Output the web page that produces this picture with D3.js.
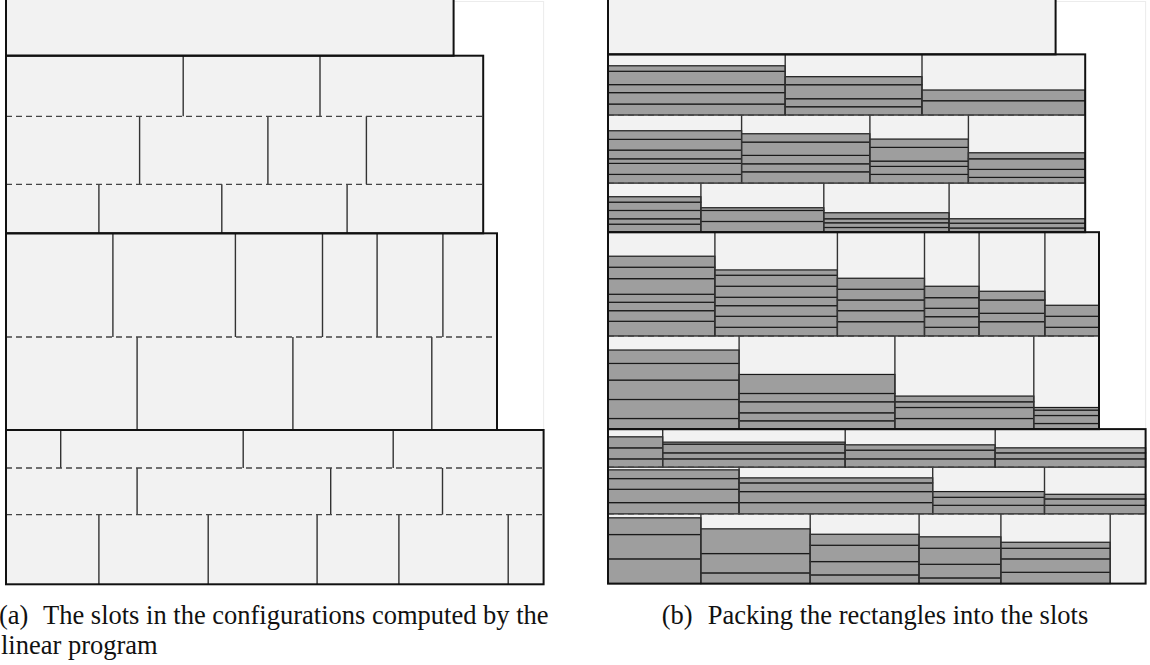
<!DOCTYPE html>
<html>
<head>
<meta charset="utf-8">
<script src="https://cdn.jsdelivr.net/npm/d3@7"></script>
<style>
  body { margin: 0; background: #fff; }
  svg { display: block; }
</style>
</head>
<body>
<script>
const width = 1150,
  height = 665;

// config widths (diagram units, measured from the strip's left edge)
const configWidths = [447.6, 477.2, 491, 537.6];

// level edges of each configuration (top to bottom)
const levelEdges = [
  [-4, 55.7],
  [55.7, 116.3, 184.3, 233.3],
  [233.3, 337, 430],
  [430, 468, 514.7, 584.3]
];

// slot cuts in every level
const slotCuts = [
  [[]],
  [[177.2, 314], [133.6, 261.9, 360.4], [92.9, 215.8, 341.1]],
  [[106.9, 229.4, 316.5, 371.1, 436.9], [131.1, 286.9, 425.8]],
  [[54.7, 237.2, 387.2], [131.1, 324.7, 436.5], [92.9, 202.2, 311.1, 392.9, 502.2]]
];

// heights of the packed rectangles in each slot, stacked from the slot bottom
const packed1 = [[[]]];
const packed2 = [
  [[11, 11.4, 8, 13.3, 5.5], [8.3, 8, 14, 8], [14.3, 10.7]],
  [[8.7, 11, 4.6, 8.7, 10.7, 8.6], [11.3, 8, 8.4, 13.3, 8.3], [8.7, 8, 5.3, 13.7, 8.3], [5.7, 8, 10.6, 6]],
  [[8, 5.4, 8.3, 8.3, 5.4], [10.7, 11, 2.7], [4.7, 4.7, 4, 6], [4.2, 4.8, 4.4]]
];
const packed3 = [
  [[14.7, 10.6, 8.4, 8, 15.6, 11.4, 11], [8.7, 11, 10.6, 8.4, 11, 11, 5.3], [14.3, 11, 10.7, 10.7, 11],
   [8.7, 10.6, 8.4, 10.6, 11.4], [14.3, 8.4, 13.3, 8.7], [8.7, 11, 11]],
  [[10.6, 19, 19.4, 16.6, 13.4], [8.3, 8, 11, 8.3, 19], [10.6, 11, 5.7, 5.7], [5.6, 8, 5.4, 2.6]]
];
const packed4 = [
  [[8.3, 11, 11], [8.3, 6, 8.7, 2], [8.3, 8.7, 5.3], [8.3, 6, 5]],
  [[11.3, 13.3, 10.7, 8.7], [11.3, 11, 8.7, 5], [8.6, 8, 5.7], [8.6, 6.4, 4.6]],
  [[24.7, 24.3, 16.7], [10.7, 19.3, 24.7], [8.7, 13.3, 16.3, 11], [5.7, 13.6, 16, 11.4], [11.3, 13.4, 10.6, 6], []]
];
const packed = [packed1, packed2, packed3, packed4];

const captionA = ["(a)", "The slots in the configurations computed by the", "linear program"];
const captionB = ["(b)", "Packing the rectangles into the slots"];

const svg = d3
  .select("body")
  .append("svg")
  .attr("width", width)
  .attr("height", height);

function drawPanel(xRange, yRange, withItems) {
  const xScale = d3.scaleLinear().domain([0, 537.6]).range(xRange);
  const yScale = d3.scaleLinear().domain([0, 584.3]).range(yRange);
  const g = svg.append("g");

  // faint frame round the figure
  g.append("rect")
    .attr("x", xScale(0))
    .attr("y", 1.5)
    .attr("width", xScale(537.6) - xScale(0))
    .attr("height", yScale(584.3) - 1.5)
    .attr("fill", "none")
    .attr("stroke", "#ececec")
    .attr("stroke-width", 1);

  // slots (flattened)
  const slots = [];
  levelEdges.forEach((edges, c) => {
    for (let l = 0; l < edges.length - 1; l++) {
      const cuts = [0, ...slotCuts[c][l], configWidths[c]];
      for (let s = 0; s < cuts.length - 1; s++) {
        slots.push({
          c, l, s,
          x0: cuts[s], x1: cuts[s + 1],
          top: edges[l], bottom: edges[l + 1],
          items: packed[c][l][s] || []
        });
      }
    }
  });

  g.selectAll("rect.slot")
    .data(slots)
    .enter()
    .append("rect")
    .attr("class", "slot")
    .attr("x", d => xScale(d.x0))
    .attr("y", d => yScale(d.top))
    .attr("width", d => xScale(d.x1) - xScale(d.x0))
    .attr("height", d => yScale(d.bottom) - yScale(d.top))
    .attr("fill", "#f2f2f2");

  if (withItems) {
    const items = [];
    slots.forEach(d => {
      let acc = 0;
      d.items.forEach(h => {
        items.push({ x0: d.x0, x1: d.x1, y1: d.bottom - acc, y0: d.bottom - acc - h });
        acc += h;
      });
    });
    g.selectAll("rect.item")
      .data(items)
      .enter()
      .append("rect")
      .attr("class", "item")
      .attr("x", d => xScale(d.x0))
      .attr("y", d => yScale(d.y0))
      .attr("width", d => xScale(d.x1) - xScale(d.x0))
      .attr("height", d => yScale(d.y1) - yScale(d.y0))
      .attr("fill", "#9e9e9e")
      .attr("stroke", "#1a1a1a")
      .attr("stroke-width", 1.2);
  }

  // slot dividers
  g.selectAll("line.cut")
    .data(slots.filter(d => d.s > 0))
    .enter()
    .append("line")
    .attr("class", "cut")
    .attr("x1", d => xScale(d.x0))
    .attr("x2", d => xScale(d.x0))
    .attr("y1", d => yScale(d.top))
    .attr("y2", d => yScale(d.bottom))
    .attr("stroke", "#333")
    .attr("stroke-width", 1.4);

  // dashed level separators
  const seps = [];
  levelEdges.forEach((edges, c) => {
    edges.slice(1, -1).forEach(y => seps.push({ c, y }));
  });
  g.selectAll("line.sep")
    .data(seps)
    .enter()
    .append("line")
    .attr("class", "sep")
    .attr("x1", xScale(0))
    .attr("x2", d => xScale(configWidths[d.c]))
    .attr("y1", d => yScale(d.y))
    .attr("y2", d => yScale(d.y))
    .attr("stroke", "#444")
    .attr("stroke-width", 1.3)
    .attr("stroke-dasharray", "6,4");

  // configuration outlines
  g.selectAll("rect.config")
    .data(configWidths)
    .enter()
    .append("rect")
    .attr("class", "config")
    .attr("x", xScale(0))
    .attr("y", (d, i) => yScale(levelEdges[i][0]))
    .attr("width", d => xScale(d) - xScale(0))
    .attr("height", (d, i) => yScale(levelEdges[i][levelEdges[i].length - 1]) - yScale(levelEdges[i][0]))
    .attr("fill", "none")
    .attr("stroke", "#111")
    .attr("stroke-width", 2);
}

drawPanel([6, 543.6], [0, 584.3], false);
drawPanel([608, 1145.6], [-1.4, 583.6], true);

// captions
const capA = svg
  .append("text")
  .attr("font-family", "'Liberation Serif', 'Times New Roman', serif")
  .attr("font-size", 26.5)
  .attr("fill", "#111");
capA.append("tspan").attr("x", -1).attr("y", 624).text(captionA[0]);
capA.append("tspan").attr("x", 43).attr("y", 624).text(captionA[1]);

// second caption line as its own text so the two lines stay apart
svg
  .append("text")
  .attr("x", 1)
  .attr("y", 654)
  .attr("font-family", "'Liberation Serif', 'Times New Roman', serif")
  .attr("font-size", 26.5)
  .attr("fill", "#111")
  .text(captionA[2]);

const capB = svg
  .append("text")
  .attr("x", 875)
  .attr("y", 624)
  .attr("text-anchor", "middle")
  .attr("font-family", "'Liberation Serif', 'Times New Roman', serif")
  .attr("font-size", 26.5)
  .attr("fill", "#111");
capB.append("tspan").text(captionB[0]);
capB.append("tspan").attr("dx", 15).text(captionB[1]);
</script>
</body>
</html>
